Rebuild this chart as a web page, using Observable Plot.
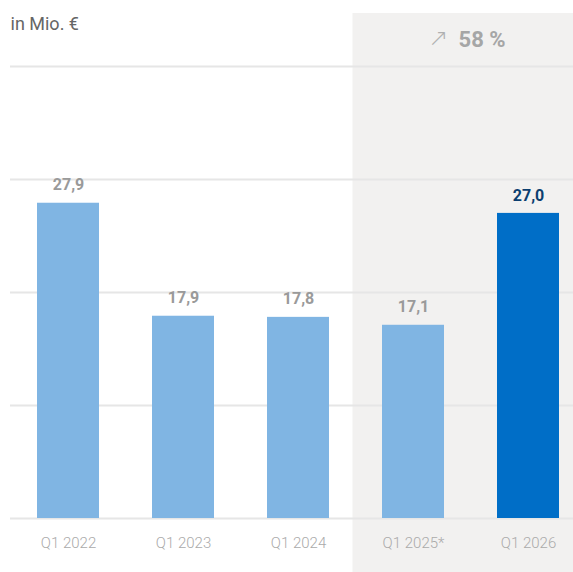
<!DOCTYPE html>
<html>
<head>
<meta charset="utf-8">
<script src="https://cdn.jsdelivr.net/npm/d3@7"></script>
<script src="https://cdn.jsdelivr.net/npm/@observablehq/plot@0.6"></script>
<style>
  html, body { margin: 0; padding: 0; background: #fff; overflow: hidden; }
  #chart svg { display: block; }
</style>
</head>
<body>
<div id="chart"></div>
<script>
const categories = ["Q1 2022", "Q1 2023", "Q1 2024", "Q1 2025*", "Q1 2026"];
const values = [27.9, 17.9, 17.8, 17.1, 27.0];
const valueLabels = ["27,9", "17,9", "17,8", "17,1", "27,0"];
const highlighted = ["Q1 2026"];
const shaded = ["Q1 2025*", "Q1 2026"];
const gridTicks = [0, 10, 20, 30, 40];
const unitLabel = "in Mio. €";
const changeLabel = "58 %";
const changeArrow = "↗";

const data = categories.map((c, i) => ({cat: c, value: values[i], label: valueLabels[i], hi: highlighted.includes(c)}));

const chart = Plot.plot({
  width: 573,
  height: 572,
  marginTop: 66,
  marginBottom: 54,
  marginLeft: 10,
  marginRight: 0,
  style: {fontFamily: "Roboto, 'DejaVu Sans', sans-serif", background: "transparent"},
  x: {domain: categories, range: [10.5, 585.5], paddingInner: 0.46, paddingOuter: 0.23, axis: null},
  y: {domain: [0, 40], axis: null},
  marks: [
    Plot.barY(shaded, {x: d => d, y1: 0, y2: 40, fill: "#f2f1f0", insetLeft: -29.5, insetRight: -29.5, insetTop: -53, insetBottom: -54}),
    Plot.ruleY(gridTicks, {stroke: "#e6e6e6", strokeWidth: 2}),
    Plot.barY(data, {x: "cat", y: "value", fill: d => d.hi ? "#006ec7" : "#80b5e3"}),
    Plot.text(data, {x: "cat", y: "value", text: "label", dy: -18, lineAnchor: "middle", fontSize: 16, fontWeight: "bold", fill: d => d.hi ? "#0b3e6f" : "#9a9a9a"}),
    Plot.axisX({tickSize: 0, tickPadding: 19, fontSize: 15, fontWeight: 300, fill: "#aaaaaa", label: null}),
    Plot.text([unitLabel], {frameAnchor: "top-left", dx: 0, dy: -42, lineAnchor: "middle", textAnchor: "start", fontSize: 18, fill: "#666666"}),
    Plot.text([changeLabel], {frameAnchor: "top-right", dx: -68, dy: -27, lineAnchor: "middle", textAnchor: "end", fontSize: 22, fontWeight: "bold", fill: "#a6a6a6"}),
    Plot.text([changeArrow], {frameAnchor: "top-right", dx: -125, dy: -28, lineAnchor: "middle", textAnchor: "end", fontSize: 24, fontWeight: 300, fill: "#b0b0b0"})
  ]
});
document.getElementById("chart").append(chart);
</script>
</body>
</html>
